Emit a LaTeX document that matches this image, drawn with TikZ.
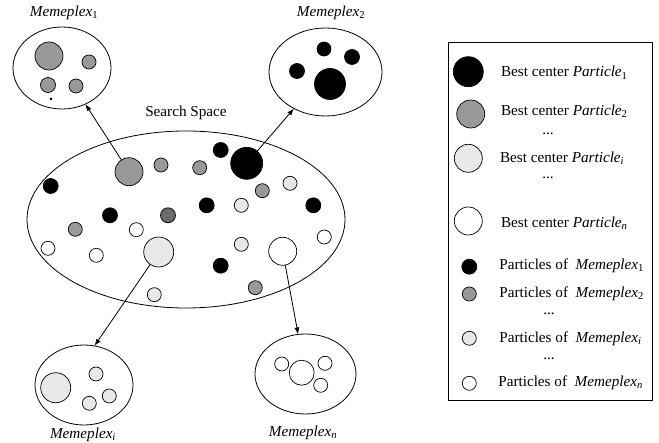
\documentclass[tikz,border=0pt]{standalone}
\usepackage{fontspec}
\setmainfont{Liberation Serif}
\usetikzlibrary{shapes.geometric,arrows.meta}
\begin{document}
\begin{tikzpicture}[x=1pt,y=-1pt,
  every node/.style={inner sep=0pt, outer sep=0pt},
  ball/.style={circle, draw, line width=0.7pt, minimum size=#1},
  blk/.style={ball=#1, fill=black},
  gry/.style={ball=#1, fill=black!40},
  dgry/.style={ball=#1, fill=black!58},
  lgt/.style={ball=#1, fill=black!9},
  wht/.style={ball=#1, fill=white},
  region/.style={ellipse, draw, line width=0.8pt},
  lbl/.style={font=\fontsize{15.2}{18}\selectfont},
  arr/.style={draw, line width=0.8pt, -{Latex[length=7pt,width=5pt]}},
]
\useasboundingbox (0,0) rectangle (659,443);

% ---------- search space ----------
\node[region, minimum width=318pt, minimum height=177pt] (space) at (186,219.5) {};
\node[lbl] (spacelbl) at (186,113) {Search Space};

\node[gry=28pt] (sg) at (129,171.7) {};
\node[gry=14pt] (s1) at (161,165) {};
\node[gry=14pt] (s2) at (199.7,167.7) {};
\node[blk=15pt] (s3) at (220.7,150) {};
\node[blk=32pt] (sb) at (246.7,163.3) {};
\node[blk=15pt] (s4) at (50.7,186) {};
\node[lgt=14pt] (s5) at (290,183.3) {};
\node[gry=14pt] (s6) at (262.3,190.7) {};
\node[blk=15pt] (s7) at (206.7,205.3) {};
\node[lgt=14pt] (s8) at (241.3,205.3) {};
\node[blk=15pt] (s9) at (313.3,205.3) {};
\node[blk=15pt] (s10) at (110,215.3) {};
\node[dgry=15pt] (s11) at (168,215.3) {};
\node[gry=14pt] (s12) at (75.3,229.3) {};
\node[wht=14pt] (s13) at (136.3,229.7) {};
\node[wht=14pt] (s14) at (324.3,237) {};
\node[wht=14pt] (s15) at (48,248.3) {};
\node[wht=14pt] (s16) at (96.3,255.3) {};
\node[lgt=30pt] (sl) at (158.7,252) {};
\node[lgt=14pt] (s17) at (241.3,244.3) {};
\node[wht=28pt] (sw) at (282.7,251.3) {};
\node[blk=15pt] (s18) at (220.7,265.7) {};
\node[gry=14pt] (s19) at (255.3,287.7) {};
\node[lgt=14pt] (s20) at (154.3,294.7) {};

% ---------- memeplex 1 ----------
\node[region, minimum width=98pt, minimum height=82pt] (m1) at (62,68) {};
\node[lbl] (m1lbl) at (64,13) {\textit{Memeplex}\textsubscript{1}};
\node[gry=28pt] (m1a) at (49,56) {};
\node[gry=14pt] (m1b) at (89,62) {};
\node[gry=15pt] (m1c) at (48,85) {};
\node[gry=14pt] (m1d) at (76,86) {};
\node[circle, fill=black, minimum size=3pt] (m1e) at (51,99) {};

% ---------- memeplex 2 ----------
\node[region, minimum width=113pt, minimum height=88pt] (m2) at (325.5,72) {};
\node[lbl] (m2lbl) at (331,13) {\textit{Memeplex}\textsubscript{2}};
\node[blk=14pt] (m2a) at (324,49) {};
\node[blk=15pt] (m2b) at (352,57) {};
\node[blk=15pt] (m2c) at (297,71) {};
\node[blk=31pt] (m2d) at (330,84) {};

% ---------- memeplex i ----------
\node[region, minimum width=98pt, minimum height=80pt] (mi) at (84,385) {};
\node[lbl] (milbl) at (83,435) {\textit{Memeplex}\textsubscript{\textit{i}}};
\node[lgt=30pt] (mia) at (55.7,387.7) {};
\node[lgt=14pt] (mib) at (96,374) {};
\node[lgt=14pt] (mic) at (109.3,396) {};
\node[lgt=14pt] (mid) at (89.3,403.3) {};

% ---------- memeplex n ----------
\node[region, minimum width=101pt, minimum height=80pt] (mn) at (305.5,374) {};
\node[lbl] (mnlbl) at (303,433) {\textit{Memeplex}\textsubscript{\textit{n}}};
\node[wht=14pt] (mna) at (281.7,364) {};
\node[wht=25pt] (mnb) at (301.7,372.7) {};
\node[wht=14pt] (mnc) at (325,363.3) {};
\node[wht=14pt] (mnd) at (320.7,385.3) {};

% ---------- connectors ----------
\draw[arr] (sg) -- (m1);
\draw[arr] (sb) -- (m2);
\draw[arr] (sl) -- (mi.75);
\draw[arr] (sw) -- (mn);

% ---------- legend ----------
\node[draw, line width=0.8pt, minimum width=204.4pt, minimum height=358pt] (legend) at (550.5,221) {};

\node[blk=30pt] (k1) at (468.3,71.7) {};
\node[lbl, anchor=west] (t1) at (501,72.7) {Best center \textit{Particle}\textsubscript{1}};
\node[gry=28pt] (k2) at (470.7,114) {};
\node[lbl, anchor=west] (t2) at (501,111) {Best center \textit{Particle}\textsubscript{2}};
\node[lbl] (d1) at (548,134) {...};
\node[lgt=28pt] (k3) at (468.3,158.3) {};
\node[lbl, anchor=west] (t3) at (500,158.3) {Best center \textit{Particle}\textsubscript{\textit{i}}};
\node[lbl] (d2) at (548,177.5) {...};
\node[wht=28pt] (k4) at (468.3,221) {};
\node[lbl, anchor=west] (t4) at (501,223.5) {Best center \textit{Particle}\textsubscript{\textit{n}}};

\node[blk=15pt] (k5) at (469.3,266.7) {};
\node[lbl, anchor=west] (t5) at (499.3,265.5) {Particles of~ \textit{Memeplex}\textsubscript{1}};
\node[gry=14pt] (k6) at (469.3,294) {};
\node[lbl, anchor=west] (t6) at (499.3,294) {Particles of~ \textit{Memeplex}\textsubscript{2}};
\node[lbl] (d3) at (549,314) {...};
\node[lgt=14pt] (k7) at (469.3,338.3) {};
\node[lbl, anchor=west] (t7) at (499.3,338.3) {Particles of~ \textit{Memeplex}\textsubscript{\textit{i}}};
\node[lbl] (d4) at (549,359) {...};
\node[wht=14pt] (k8) at (469.3,383.3) {};
\node[lbl, anchor=west] (t8) at (498.3,383) {Particles of~ \textit{Memeplex}\textsubscript{\textit{n}}};
\end{tikzpicture}
\end{document}
